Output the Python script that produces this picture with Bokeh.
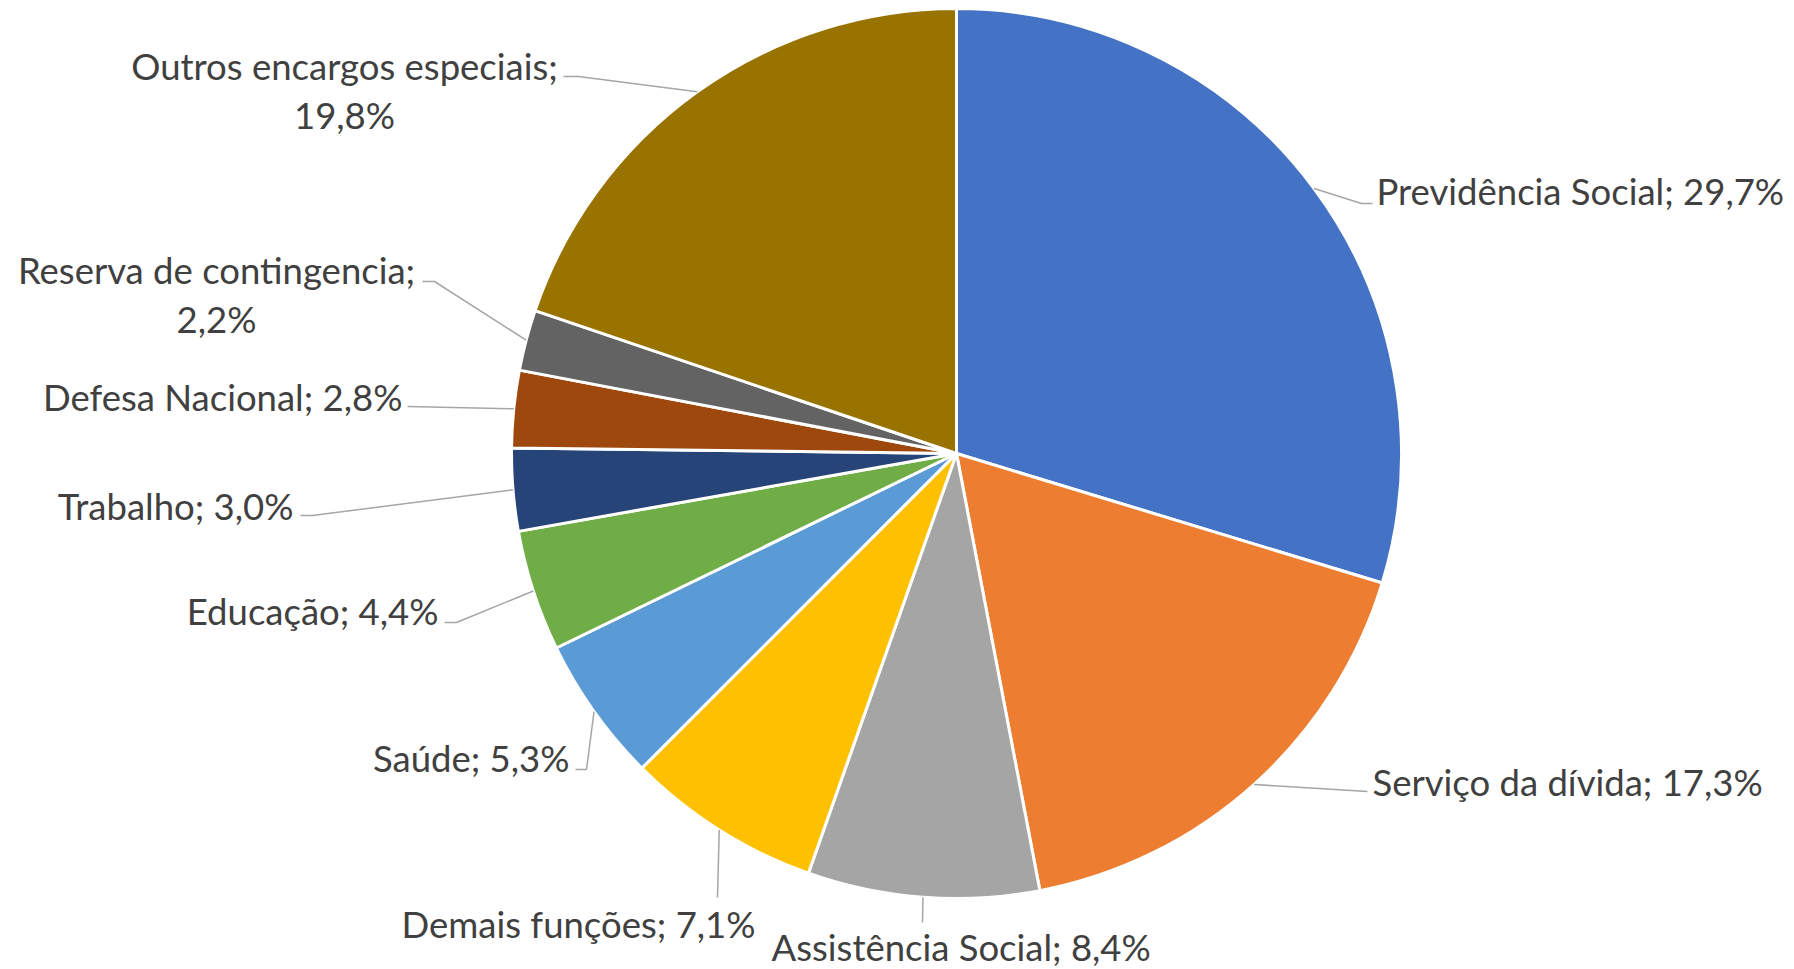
import math
from bokeh.plotting import figure
from bokeh.models import Range1d, ColumnDataSource
from bokeh.core.properties import value
from bokeh.embed import file_html
from bokeh.resources import INLINE

# ---------------- data ----------------
categories = ["Previdência Social", "Serviço da dívida", "Assistência Social",
              "Demais funções", "Saúde", "Educação", "Trabalho",
              "Defesa Nacional", "Reserva de contingencia", "Outros encargos especiais"]
shares = [29.7, 17.3, 8.4, 7.1, 5.3, 4.4, 3.0, 2.8, 2.2, 19.8]
colors = ["#4472C4", "#ED7D31", "#A5A5A5", "#FFC000", "#5B9BD5",
          "#70AD47", "#264478", "#9E480E", "#636363", "#997300"]

# ---------------- layout (pixels, y downwards) ----------------
W, H = 1794, 969
CX, CY, R = 956, 453, 445
FONT = "Lato"
FS = "36.5px"
TXT = "#404040"
LEADER = "#A6A6A6"

# per label: alignment, anchor x, first-line y, split into two lines?, leader elbow points
label_layout = [
    ("left", 1376, 190, False, [(1361, 203), (1372, 203)]),
    ("left", 1372, 781, False, [(1367, 791)]),
    ("left", 771, 946, False, [(922, 922)]),
    ("left", 401, 923, False, [(717, 897)]),
    ("right", 569, 757, False, [(586, 769), (575, 769)]),
    ("right", 438, 610, False, [(456, 622), (444, 622)]),
    ("right", 293, 505, False, [(312, 515), (300, 515)]),
    ("right", 402, 396, False, [(407, 406)]),
    ("center", 216, 269, True, [(434, 281), (422, 281)]),
    ("center", 344, 65, True, [(578, 76), (563, 76)]),
]
LINE_GAP = 49


def fy(py):
    return H - py


p = figure(width=W, height=H, x_range=Range1d(0, W), y_range=Range1d(0, H),
           x_axis_type=None, y_axis_type=None, toolbar_location=None,
           output_backend="svg", min_border=0, outline_line_color=None,
           background_fill_color="white", border_fill_color="white")
p.grid.visible = False

total = sum(shares)
starts, ends, mids = [], [], []
cum = 0.0
for s in shares:
    a0 = math.pi / 2 - 2 * math.pi * cum / total
    a1 = math.pi / 2 - 2 * math.pi * (cum + s) / total
    starts.append(a0)
    ends.append(a1)
    mids.append((a0 + a1) / 2)
    cum += s

src = ColumnDataSource(dict(start=starts, end=ends, color=colors, cat=categories, share=shares))
p.wedge(x=CX, y=fy(CY), radius=R, start_angle="start", end_angle="end",
        direction="clock", fill_color="color", line_color="white", line_width=3,
        source=src)

# leader lines
xs, ys = [], []
for m, lay in zip(mids, label_layout):
    px = CX + R * math.cos(m)
    py = CY - R * math.sin(m)
    pts = [(px, py)] + lay[4]
    xs.append([q[0] for q in pts])
    ys.append([fy(q[1]) for q in pts])
p.multi_line(xs=xs, ys=ys, line_color=LEADER, line_width=1.5)

# labels
groups = {"left": ([], [], []), "right": ([], [], []), "center": ([], [], [])}
for cat, s, lay in zip(categories, shares, label_layout):
    align, x, y, two, _ = lay
    pct = f"{s:.1f}%".replace(".", ",")
    g = groups[align]
    if two:
        g[0].extend([x, x])
        g[1].extend([fy(y), fy(y + LINE_GAP)])
        g[2].extend([cat + ";", pct])
    else:
        g[0].append(x)
        g[1].append(fy(y))
        g[2].append(f"{cat}; {pct}")

for align, (gx, gy, gt) in groups.items():
    if not gx:
        continue
    p.text(x=gx, y=gy, text=gt, text_align=align, text_baseline="middle",
           text_font=value(FONT), text_font_size=FS, text_color=TXT)

open("out.html", "w").write(file_html(p, INLINE))
